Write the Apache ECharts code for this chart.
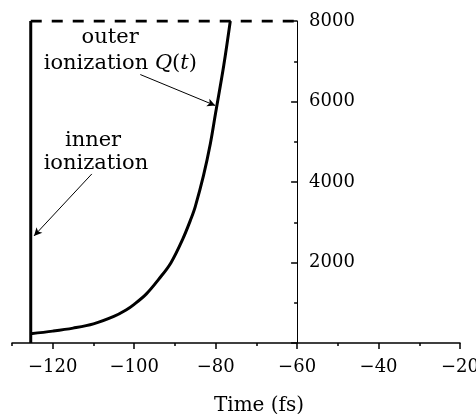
<!DOCTYPE html>
<html>
<head>
<meta charset="utf-8">
<script src="https://cdn.jsdelivr.net/npm/echarts@6/dist/echarts.min.js"></script>
<style>
  html, body { margin: 0; padding: 0; background: #fff; }
  #chart { width: 476px; height: 414px; }
</style>
</head>
<body>
<div id="chart"></div>
<script>
// outer ionization Q(t): time (fs) vs charge
const timeX = [-125.4, -120, -115, -110, -105, -102, -100, -97, -94, -91, -88, -86, -85, -83, -81.3, -80, -78, -76.4]
const chargeY = [230, 295, 370, 475, 660, 820, 960, 1220, 1580, 1990, 2600, 3100, 3390, 4150, 4950, 5720, 6900, 8000]

// inner ionization: vertical jump at t0
const innerX = [-125.4, -125.4]
const innerY = [0, 8000]

// saturation level (dashed)
const satX = [-125.4, -60]
const satY = [8000, 8000]

// axis ticks
const xMin = -130
const xMax = -20
const xMajorTicks = [-120, -100, -80, -60, -40, -20]
const yMax = 8000
const yAxisAt = -60

// annotation arrows [from, to] in data coords
const outerArrow = [[-98.5, 6670], [-80.1, 5900]]
const innerArrow = [[-110.4, 4200], [-124.6, 2660]]

// annotation text anchors
const labelNames = ['outer', 'ionization {i|Q}({i|t})', 'inner', 'ionization']
const labelX = [-105.9, -103.4, -110.1, -109.4]
const labelY = [7600, 6950, 5040, 4470]

const font = 'DejaVu Serif'
const gridLeft = 12
const gridRight = 16
const plotW = 476 - gridLeft - gridRight
// pixel offset of the y axis from the left grid edge
const yOffset = -((yAxisAt - xMin) / (xMax - xMin)) * plotW

const chart = echarts.init(document.getElementById('chart'))

chart.setOption({
  animation: false,
  grid: { left: gridLeft, right: gridRight, top: 21, bottom: 71, outerBoundsMode: 'none' },
  xAxis: [
    {
      type: 'value',
      min: xMin,
      max: xMax,
      interval: 10,
      axisLine: { show: true, onZero: false, lineStyle: { color: '#000', width: 1.5 } },
      axisTick: { show: true, length: 3, lineStyle: { color: '#000', width: 1.5 } },
      axisLabel: {
        margin: 15,
        color: '#000',
        fontFamily: font,
        fontSize: 18,
        formatter: v => (v % 20 === 0 ? String(v).replace('-', '\u2212') : ''),
      },
      splitLine: { show: false },
      name: 'Time (fs)',
      nameLocation: 'middle',
      nameGap: 53,
      nameTextStyle: { color: '#000', fontFamily: font, fontSize: 20, padding: [0, 0, 0, 46] },
    },
    {
      // longer major ticks
      type: 'value',
      min: xMin,
      max: xMax,
      position: 'bottom',
      axisLine: { show: false, onZero: false },
      axisTick: { show: true, length: 6, customValues: xMajorTicks, lineStyle: { color: '#000', width: 1.5 } },
      axisLabel: { show: false },
      splitLine: { show: false },
    },
  ],
  yAxis: {
    type: 'value',
    min: 0,
    max: yMax,
    interval: 2000,
    position: 'left',
    offset: yOffset,
    axisLine: { show: true, onZero: false, lineStyle: { color: '#000', width: 1 } },
    axisTick: { show: true, inside: false, length: 6, lineStyle: { color: '#000', width: 1.5 } },
    minorTick: { show: true, splitNumber: 2, length: 3, lineStyle: { color: '#000', width: 1.5 } },
    axisLabel: {
      inside: true,
      margin: 12,
      color: '#000',
      fontFamily: font,
      fontSize: 18,
      formatter: v => (v === 0 ? '' : String(v)),
    },
    splitLine: { show: false },
    minorSplitLine: { show: false },
  },
  series: [
    {
      name: 'outer',
      type: 'line',
      data: timeX.map((t, i) => [t, chargeY[i]]),
      smooth: 0.35,
      symbol: 'none',
      lineStyle: { color: '#000', width: 3 },
    },
    {
      name: 'inner',
      type: 'line',
      data: innerX.map((t, i) => [t, innerY[i]]),
      symbol: 'none',
      lineStyle: { color: '#000', width: 3 },
    },
    {
      name: 'saturation',
      type: 'line',
      data: satX.map((t, i) => [t, satY[i]]),
      symbol: 'none',
      lineStyle: { color: '#000', width: 3, type: [11, 10] },
    },
    {
      name: 'notes',
      type: 'line',
      data: [],
      symbol: 'none',
      markLine: {
        silent: true,
        symbol: ['none', 'arrow'],
        symbolSize: [6, 8],
        lineStyle: { color: '#000', width: 1, type: 'solid' },
        label: { show: false },
        data: [outerArrow, innerArrow].map(a => [{ coord: a[0] }, { coord: a[1] }]),
      },
      markPoint: {
        silent: true,
        symbol: 'circle',
        symbolSize: 0,
        label: {
          show: true,
          position: 'inside',
          color: '#000',
          fontFamily: font,
          fontSize: 21,
          formatter: p => p.name,
          rich: {
            i: { fontStyle: 'italic', fontFamily: font, fontSize: 21, color: '#000' },
          },
        },
        data: labelNames.map((n, i) => ({ name: n, coord: [labelX[i], labelY[i]] })),
      },
    },
  ],
})
</script>
</body>
</html>
